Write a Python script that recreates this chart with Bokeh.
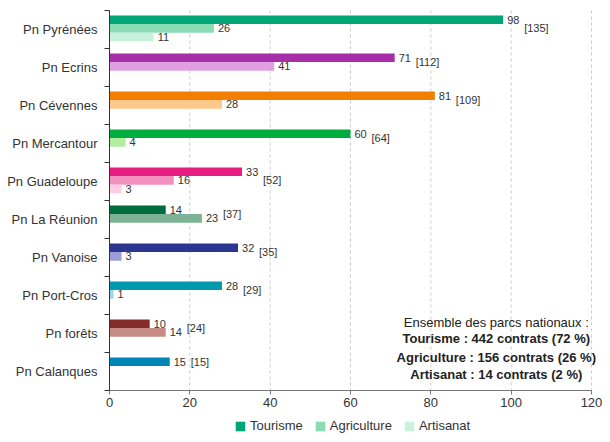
from bokeh.plotting import figure
from bokeh.models import ColumnDataSource, Range1d, FixedTicker, Legend, LegendItem, Label
from bokeh.core.properties import value
from bokeh.embed import file_html
from bokeh.resources import INLINE

parks = ["Pn Pyrénées", "Pn Ecrins", "Pn Cévennes", "Pn Mercantour", "Pn Guadeloupe",
         "Pn La Réunion", "Pn Vanoise", "Pn Port-Cros", "Pn forêts", "Pn Calanques"]
tourisme = [98, 71, 81, 60, 33, 14, 32, 28, 10, 15]
agriculture = [26, 41, 28, 4, 16, 23, 3, 1, 14, 0]
artisanat = [11, 0, 0, 0, 3, 0, 0, 0, 0, 0]
totals = [135, 112, 109, 64, 52, 37, 35, 29, 24, 15]

col_tourisme = ["#00a676", "#a62ea8", "#f27f00", "#00ad3e", "#e61e83",
                "#006b3f", "#2c3691", "#0099ae", "#842b2d", "#0085b5"]
col_agriculture = ["#88ddb5", "#df9fe0", "#ffc88c", "#b2eda0", "#f290be",
                   "#7db394", "#9c9cda", "#9ed8e2", "#c48c84", "#9fd3e8"]
col_artisanat = ["#c9f2dd", "#f2d6f2", "#ffe5c6", "#dcf7d2", "#fdcde5",
                 "#c5e0d0", "#d2d2f0", "#d4eff3", "#e6cbc7", "#d2ebf5"]

x_ticks = [0, 20, 40, 60, 80, 100, 120]
legend_labels = ["Tourisme", "Agriculture", "Artisanat"]
summary_lines = ["Ensemble des parcs nationaux :",
                 "Tourisme : 442 contrats (72 %)",
                 "Agriculture : 156 contrats (26 %)",
                 "Artisanat : 14 contrats (2 %)"]
summary_bold = [False, True, True, True]

FONT = "Liberation Sans"
n = len(parks)
centers = [i + 0.5 for i in range(n)]
offsets = [-0.255, -0.03, 0.195]
bar_h = 0.225

# the frame covers the whole canvas; axes are placed at fixed locations inside it
W, H = 602, 434
LEFT, TOP = 109, 10
PX_X = 482 / 120.0
PX_Y = 38.0
x_start, x_end = -LEFT / PX_X, (W - LEFT) / PX_X
y_top, y_bottom = -TOP / PX_Y, (H - TOP) / PX_Y

p = figure(frame_width=W, frame_height=H, output_backend="svg", toolbar_location=None,
           x_range=Range1d(x_start, x_end), y_range=Range1d(y_bottom, y_top),
           min_border_left=0, min_border_right=0, min_border_top=0, min_border_bottom=0)
p.outline_line_color = None
p.background_fill_color = "white"
p.border_fill_color = "white"

# dashed vertical grid lines, limited to the category area
gsrc = ColumnDataSource(dict(x=x_ticks[1:], y0=[0] * (len(x_ticks) - 1),
                             y1=[n] * (len(x_ticks) - 1)))
p.segment(x0="x", x1="x", y0="y0", y1="y1", source=gsrc, line_color="#cccccc",
          line_dash="3 3", line_width=1)

series = [tourisme, agriculture, artisanat]
colors = [col_tourisme, col_agriculture, col_artisanat]
bar_renderers = []
for s_idx, (vals, cols) in enumerate(zip(series, colors)):
    ys, xs, cs, lbl = [], [], [], []
    for i in range(n):
        if vals[i] > 0:
            ys.append(centers[i] + offsets[s_idx])
            xs.append(vals[i])
            cs.append(cols[i])
            lbl.append(str(vals[i]))
    src = ColumnDataSource(dict(y=ys, right=xs, color=cs, label=lbl))
    r = p.hbar(y="y", right="right", left=0, height=bar_h, fill_color="color",
               line_color=None, source=src)
    bar_renderers.append(r)
    p.text(x="right", y="y", text="label", source=src, x_offset=4,
           text_baseline="middle", text_align="left", text_font_size="11px",
           text_color="#333333", text_font=value(FONT))

# totals
ty, tx, tl = [], [], []
for i in range(n):
    pos = [centers[i] + offsets[k] for k in range(3) if series[k][i] > 0]
    ty.append(sum(pos) / len(pos))
    tx.append(max(series[k][i] for k in range(3)))
    tl.append("[%d]" % totals[i])
tsrc = ColumnDataSource(dict(x=tx, y=ty, label=tl))
p.text(x="x", y="y", text="label", source=tsrc, x_offset=21,
       text_baseline="middle", text_align="left", text_font_size="11px",
       text_color="#333333", text_font=value(FONT))

# x axis at the bottom of the category area
p.xaxis.fixed_location = n
p.xaxis.bounds = (0, 120)
p.xaxis.ticker = FixedTicker(ticks=x_ticks)
p.xaxis.axis_line_color = "#777777"
p.xaxis.major_tick_line_color = "#777777"
p.xaxis.major_tick_out = 4
p.xaxis.major_tick_in = 0
p.xaxis.minor_tick_line_color = None
p.xaxis.major_label_standoff = 3
p.xaxis.major_label_text_font_size = "13px"
p.xaxis.major_label_text_font = FONT
p.xaxis.major_label_text_color = "#333333"

# y axis at x = 0
p.yaxis.fixed_location = 0
p.yaxis.bounds = (0, n)
p.yaxis.ticker = FixedTicker(ticks=centers, minor_ticks=list(range(n + 1)))
p.yaxis.major_label_overrides = {c: name for c, name in zip(centers, parks)}
p.yaxis.axis_line_color = "#333333"
p.yaxis.major_tick_line_color = None
p.yaxis.major_tick_out = 5
p.yaxis.major_tick_in = 0
p.yaxis.minor_tick_line_color = "#333333"
p.yaxis.minor_tick_out = 5
p.yaxis.minor_tick_in = 0
p.yaxis.major_label_standoff = 7
p.yaxis.major_label_text_font_size = "13px"
p.yaxis.major_label_text_font = FONT
p.yaxis.major_label_text_color = "#333333"

p.xgrid.visible = False
p.ygrid.visible = False

# summary text
sum_y = [8.2, 8.64, 9.12, 9.58]
for line, bold, yy in zip(summary_lines, summary_bold, sum_y):
    p.add_layout(Label(x=96.3, y=yy, text=line, text_align="center", text_baseline="middle",
                       text_font_size="13px", text_font=FONT,
                       text_font_style="bold" if bold else "normal",
                       text_color="#222222"))

# legend (swatch colours taken from the first row of each series)
items = [LegendItem(label=lab, renderers=[r], index=0)
         for lab, r in zip(legend_labels, bar_renderers)]
legend = Legend(items=items, location=(234, 1), orientation="horizontal",
                glyph_width=12, glyph_height=12, label_standoff=4, spacing=11,
                padding=0, margin=0, border_line_color=None, background_fill_alpha=0,
                label_text_font_size="13px", label_text_font=FONT,
                label_text_color="#333333", label_height=12)
p.add_layout(legend)

open("out.html", "w").write(file_html(p, INLINE))
